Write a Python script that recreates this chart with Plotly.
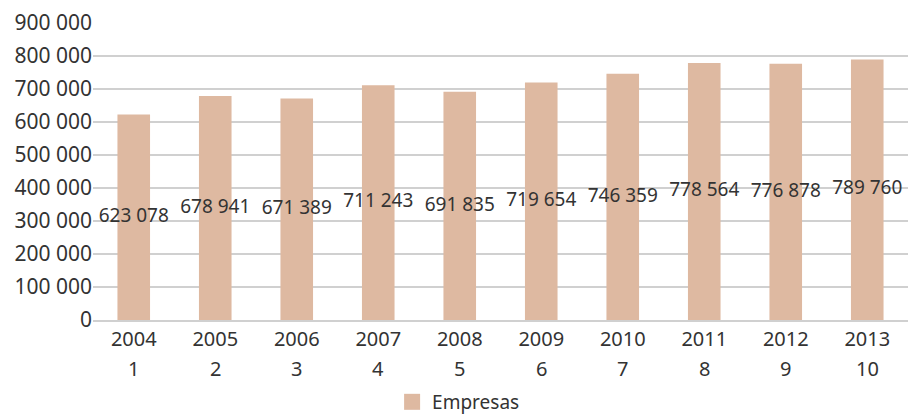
import plotly.graph_objects as go

years = ["2004", "2005", "2006", "2007", "2008", "2009", "2010", "2011", "2012", "2013"]
index_labels = ["1", "2", "3", "4", "5", "6", "7", "8", "9", "10"]
empresas = [623078, 678941, 671389, 711243, 691835, 719654, 746359, 778564, 776878, 789760]
y_ticks = [0, 100000, 200000, 300000, 400000, 500000, 600000, 700000, 800000, 900000]


def fmt(v):
    return f"{v:,}".replace(",", " ")


FONT = "Noto Sans"
TXT = "#333333"
BAR = "#DEB9A1"

pos = list(range(len(years)))

fig = go.Figure()
fig.add_trace(go.Bar(
    x=pos, y=empresas, name="Empresas",
    marker=dict(color=BAR, line=dict(width=0)),
    width=0.4, showlegend=False,
))
# value labels centred at mid-height of each bar
fig.add_trace(go.Scatter(
    x=pos, y=[v / 2 for v in empresas],
    mode="text", text=[fmt(v) for v in empresas],
    textfont=dict(family=FONT, size=19, color=TXT),
    showlegend=False, hoverinfo="skip",
))
# legend entry with a larger square swatch
fig.add_trace(go.Scatter(
    x=[None], y=[None], mode="markers", name="Empresas",
    marker=dict(symbol="square", size=16, color=BAR),
))

# second row of category labels
for p, idx in zip(pos, index_labels):
    fig.add_annotation(
        x=p, y=0, xref="x", yref="paper", text=idx, showarrow=False,
        yanchor="middle", yshift=-48, font=dict(family=FONT, size=20, color=TXT),
    )

fig.update_layout(
    width=911, height=414,
    margin=dict(l=93, r=3, t=23, b=94, autoexpand=False),
    paper_bgcolor="white", plot_bgcolor="white",
    font=dict(family=FONT, color=TXT),
    showlegend=True,
    legend=dict(
        orientation="h", x=0.367, xanchor="left", xref="paper",
        y=-0.276, yanchor="middle", yref="paper",
        font=dict(family=FONT, size=19, color=TXT),
        itemwidth=30,
    ),
)
fig.update_xaxes(
    range=[-0.5, len(years) - 0.5], tickvals=pos, ticktext=years,
    showgrid=False, ticks="", showline=True,
    linecolor="#d0d0d0", linewidth=2,
    tickfont=dict(family=FONT, size=20, color=TXT),
)
fig.update_yaxes(
    range=[0, 900000], tickvals=y_ticks, ticktext=[fmt(v) for v in y_ticks],
    showgrid=True, gridcolor="#d0d0d0", gridwidth=1.5, zeroline=False,
    ticks="", tickfont=dict(family=FONT, size=21, color=TXT),
    showline=False,
)

fig.write_html("out.html")
